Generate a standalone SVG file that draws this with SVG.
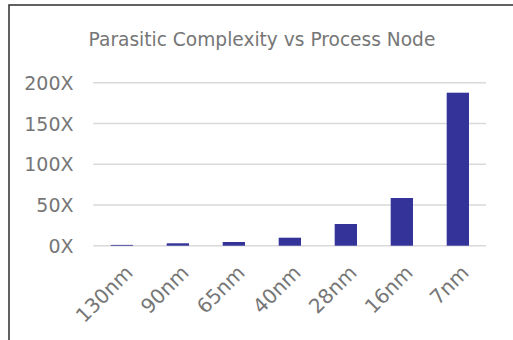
<svg xmlns="http://www.w3.org/2000/svg" width="513" height="340" viewBox="0 0 513 340">
<style>
text{font-family:"DejaVu Sans","Liberation Sans",sans-serif;fill:#767676}
.title{font-size:18.6px;text-anchor:middle}
.yl{font-size:19px;text-anchor:end}
.xl{font-size:20px;text-anchor:end}
.grid{stroke:#d9d9d9;stroke-width:1.5}
.bar{fill:#333399}
</style>
<rect x="0" y="0" width="513" height="340" fill="#ffffff"/>
<rect x="9" y="5" width="520" height="350" fill="none" stroke="#3a3a3a" stroke-width="1.6"/>
<text class="title" x="262" y="46">Parasitic Complexity vs Process Node</text>
<g id="gridlines">
<line class="grid" x1="93.3" y1="82.7" x2="486" y2="82.7"/>
<line class="grid" x1="93.3" y1="123.5" x2="486" y2="123.5"/>
<line class="grid" x1="93.3" y1="164.2" x2="486" y2="164.2"/>
<line class="grid" x1="93.3" y1="205" x2="486" y2="205"/>
<line class="grid" x1="93.3" y1="245.7" x2="486" y2="245.7"/>
</g>
<g id="y-axis">
<text class="yl" x="73.5" y="89.7">200X</text>
<text class="yl" x="73.5" y="130.5">150X</text>
<text class="yl" x="73.5" y="171.2">100X</text>
<text class="yl" x="73.5" y="212">50X</text>
<text class="yl" x="73.5" y="252.7">0X</text>
</g>
<g id="bars">
<rect class="bar" x="110.7" y="244.9" width="22.3" height="0.8"/>
<rect class="bar" x="166.7" y="243.3" width="22.3" height="2.4"/>
<rect class="bar" x="222.7" y="242" width="22.3" height="3.7"/>
<rect class="bar" x="278.7" y="237.7" width="22.3" height="8"/>
<rect class="bar" x="334.7" y="224" width="22.3" height="21.7"/>
<rect class="bar" x="390.7" y="198" width="22.3" height="47.7"/>
<rect class="bar" x="446.7" y="92.7" width="22.3" height="153"/>
</g>
<g id="x-axis">
<text class="xl" transform="translate(134,274) rotate(-45)">130nm</text>
<text class="xl" transform="translate(190,274) rotate(-45)">90nm</text>
<text class="xl" transform="translate(246,274) rotate(-45)">65nm</text>
<text class="xl" transform="translate(302,274) rotate(-45)">40nm</text>
<text class="xl" transform="translate(358,274) rotate(-45)">28nm</text>
<text class="xl" transform="translate(414,274) rotate(-45)">16nm</text>
<text class="xl" transform="translate(470,274) rotate(-45)">7nm</text>
</g>
</svg>
